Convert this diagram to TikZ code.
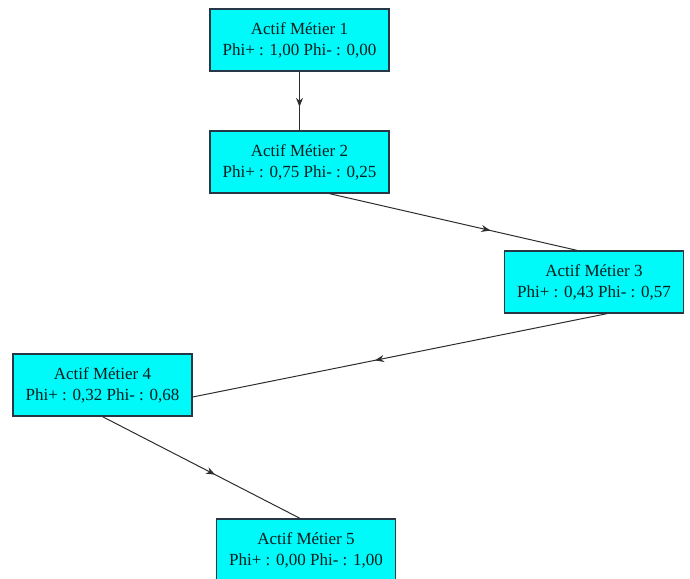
\documentclass[tikz,border=0pt]{standalone}
\usepackage{fontspec}
\setmainfont{Liberation Serif}
\usetikzlibrary{arrows.meta,decorations.markings,calc}
\definecolor{boxfill}{RGB}{0,250,250}
\definecolor{boxline}{RGB}{40,55,70}
\definecolor{edgecol}{RGB}{45,45,45}
\definecolor{txtcol}{RGB}{5,30,30}
\begin{document}
\begin{tikzpicture}[x=1pt,y=-1pt,
  actif/.style={draw=boxline,line width=1.3pt,fill=boxfill,text=txtcol,
    minimum width=179pt,minimum height=62pt,inner sep=0pt,align=center,
    font=\fontsize{17}{21}\selectfont},
  flow/.style={draw=edgecol,line width=1pt,
    postaction={decorate},
    decoration={markings,mark=at position #1 with {\arrow{Stealth[length=9pt,width=7pt]}}}},
  flow/.default=0.6]
\useasboundingbox (0,0) rectangle (690,578);
\node[actif] (n1) at (299.5,40) {Actif Métier 1\\Phi+ : 1,00 Phi- : 0,00};
\node[actif] (n2) at (299.5,162) {Actif Métier 2\\Phi+ : 0,75 Phi- : 0,25};
\node[actif] (n3) at (594,282) {Actif Métier 3\\Phi+ : 0,43 Phi- : 0,57};
\node[actif] (n4) at (102.5,385) {Actif Métier 4\\Phi+ : 0,32 Phi- : 0,68};
\node[actif] (n5) at (306,550) {Actif Métier 5\\Phi+ : 0,00 Phi- : 1,00};
\coordinate (a2) at ($(n2.south)+(30,0)$);
\coordinate (b3) at ($(n3.north)+(-17,0)$);
\coordinate (a3) at ($(n3.south)+(13,0)$);
\coordinate (b4) at ($(n4.east)+(0,12)$);
\coordinate (b5) at ($(n5.north)+(-6,0)$);
\draw[flow=0.6] (n1.south) -- (n2.north);
\draw[flow=0.65] (a2) -- (b3);
\draw[flow=0.56] (a3) -- (b4);
\draw[flow=0.57] (n4.south) -- (b5);
\end{tikzpicture}
\end{document}
